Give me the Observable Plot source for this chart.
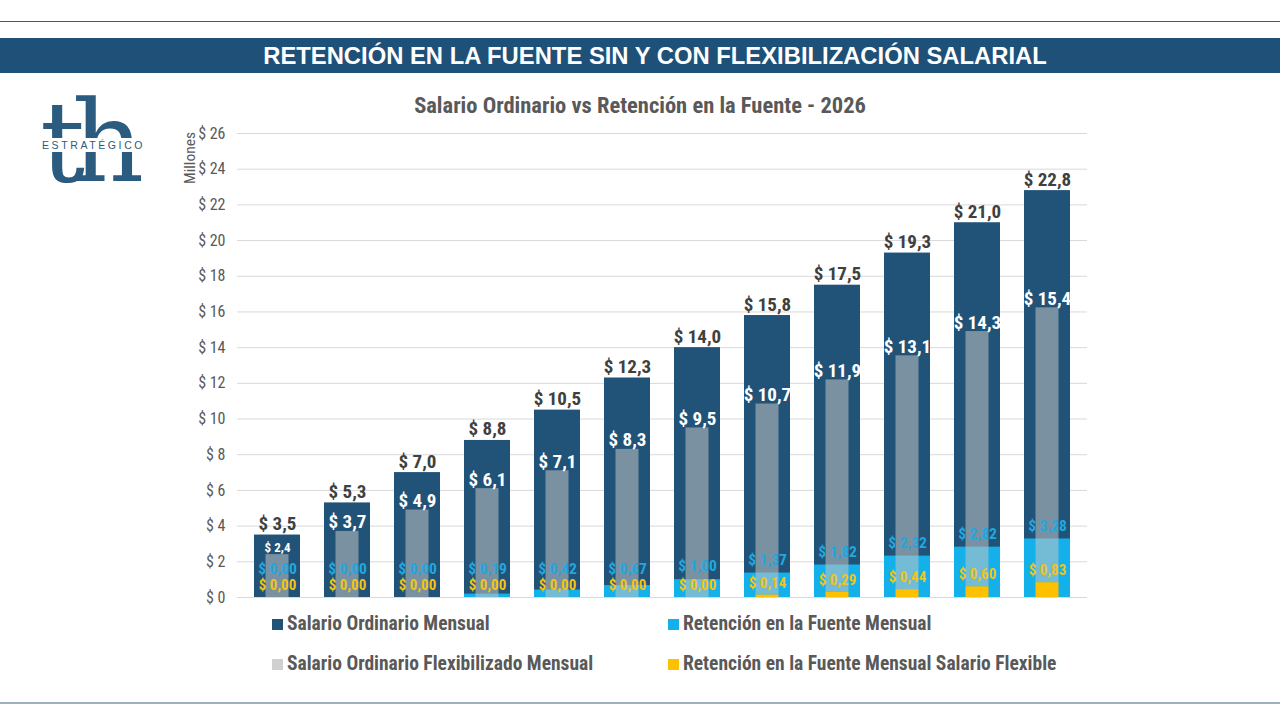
<!DOCTYPE html>
<html><head><meta charset="utf-8">
<script src="https://cdn.jsdelivr.net/npm/d3@7"></script>
<script src="https://cdn.jsdelivr.net/npm/@observablehq/plot@0.6"></script>
<style>
body{margin:0;width:1280px;height:720px;background:#fff;position:relative;overflow:hidden;font-family:"Liberation Sans",Arial,sans-serif}
#topline{position:absolute;left:0;top:21px;width:1280px;height:1px;background:#555}
#banner{position:absolute;left:0;top:38px;width:1280px;height:35px;background:#1f5078;color:#fff;font-weight:bold;font-size:23.8px;line-height:36px;text-align:center;text-indent:30px}
#bottomline{position:absolute;left:0;top:702px;width:1280px;height:2px;background:#9fb0bd}
#ctitle{position:absolute;left:0;top:92px;width:1280px;text-align:center;font-family:"Liberation Sans Narrow","Roboto Condensed","Liberation Sans",sans-serif;font-weight:bold;font-size:22.5px;color:#595959}
#chart{position:absolute;left:0;top:110px}
#logo{position:absolute;left:40px;top:86px;width:110px;height:110px}
#logo .th{position:absolute;left:0;top:0;font-family:"DejaVu Serif","Liberation Serif",serif;font-size:112px;line-height:112px;color:#2b5b7e;letter-spacing:-13px}
#logo .band{position:absolute;left:0;top:52px;width:108px;height:14px;background:#fff;font-family:"Liberation Sans",sans-serif;font-size:10.5px;letter-spacing:2.6px;color:#2b5b7e;line-height:14px;text-indent:2px}
#legend{position:absolute;left:272px;top:612px;font-family:"Liberation Sans Narrow","Roboto Condensed","Liberation Sans",sans-serif;font-weight:bold;font-size:19.5px;color:#595959}
.li{position:absolute;white-space:nowrap;line-height:24px}
.sw{display:inline-block;width:11px;height:11px;margin-right:4px;vertical-align:0px}
</style></head>
<body>
<div id="topline"></div>
<div id="banner">RETENCIÓN EN LA FUENTE SIN Y CON FLEXIBILIZACIÓN SALARIAL</div>
<div id="logo"><div class="th">th</div><div class="band">ESTRATÉGICO</div></div>
<div id="ctitle">Salario Ordinario vs Retención en la Fuente - 2026</div>
<div id="chart"></div>
<div id="legend"></div>
<div id="bottomline"></div>
<script>
const categories = ["1","2","3","4","5","6","7","8","9","10","11","12"];
const salarioOrdinario = [3.5, 5.3, 7.0, 8.8, 10.5, 12.3, 14.0, 15.8, 17.5, 19.3, 21.0, 22.8];
const salarioFlexibilizado = [2.4, 3.7, 4.9, 6.1, 7.1, 8.3, 9.5, 10.7, 11.9, 13.1, 14.3, 15.4];
const retencion = [0.00, 0.00, 0.00, 0.19, 0.42, 0.67, 1.00, 1.37, 1.82, 2.32, 2.82, 3.28];
const retencionFlexible = [0.00, 0.00, 0.00, 0.00, 0.00, 0.00, 0.00, 0.14, 0.29, 0.44, 0.60, 0.83];
const yTicks = [0, 2, 4, 6, 8, 10, 12, 14, 16, 18, 20, 22, 24, 26];
const seriesNames = ["Salario Ordinario Mensual", "Retención en la Fuente Mensual", "Salario Ordinario Flexibilizado Mensual", "Retención en la Fuente Mensual Salario Flexible"];

const C_DARK = "#215379", C_BLUE = "#13b0ea", C_GRAY = "#c4c4c4", C_GOLD = "#ffc000";
const data = categories.map((c, i) => ({
  cat: c, total: salarioOrdinario[i], flex: salarioFlexibilizado[i],
  ret: retencion[i], fret: retencionFlexible[i]
}));
const f1 = v => "$ " + v.toFixed(1).replace(".", ",");
const f2 = v => "$ " + v.toFixed(2).replace(".", ",");
const font = '"Liberation Sans Narrow","Roboto Condensed","Liberation Sans",sans-serif';

const chart = Plot.plot({
  width: 1280, height: 500,
  marginLeft: 237, marginRight: 193, marginTop: 23, marginBottom: 13,
  style: {fontFamily: font, background: "transparent"},
  x: {domain: categories, padding: 0, axis: null},
  y: {domain: [0, 26], ticks: yTicks, tickFormat: d => "$ " + d, tickSize: 0, tickPadding: 12, label: null, axis: null},
  marks: [
    Plot.gridY(yTicks, {stroke: "#d9d9d9", strokeOpacity: 1}),
    Plot.axisY(yTicks, {tickSize: 0, tickPadding: 12, tickFormat: d => "$ " + d, fontSize: 16, fill: "#595959", label: null}),
    Plot.barY(data, {x: "cat", y: "total", fill: C_DARK, insetLeft: 12, insetRight: 12}),
    Plot.barY(data, {x: "cat", y: "ret", fill: C_BLUE, insetLeft: 12, insetRight: 12}),
    Plot.barY(data, {x: "cat", y1: "fret", y2: d => d.fret + d.flex, fill: C_GRAY, fillOpacity: 0.55, insetLeft: 23.5, insetRight: 23.5}),
    Plot.barY(data, {x: "cat", y: "fret", fill: C_GOLD, insetLeft: 23.5, insetRight: 23.5}),
    Plot.text(data, {x: "cat", y: "total", text: d => f1(d.total), lineAnchor: "bottom", dy: -5, fontSize: 19, fontWeight: "bold", fill: "#404040"}),
    Plot.text(data, {x: "cat", y: d => d.fret + d.flex, text: d => f1(d.flex), lineAnchor: "bottom", dy: -3, fontSize: d => d.flex < 3 ? 13 : 19, fontWeight: "bold", fill: "#ffffff"}),
    Plot.text(data, {x: "cat", y: d => Math.max(d.ret + 0.75, 1.6), text: d => f2(d.ret), fontSize: 15.5, fontWeight: "bold", fill: "#22a7df"}),
    Plot.text(data, {x: "cat", y: d => d.fret + 0.68, text: d => f2(d.fret), fontSize: 15, fontWeight: "bold", fill: "#f0c419"})
  ]
});
document.getElementById("chart").appendChild(chart);

// "Millones" axis title
const svg = d3.select(chart);
svg.append("text").attr("transform", "translate(195,48) rotate(-90)").attr("text-anchor", "middle")
  .attr("font-family", font).attr("font-size", 15.5).attr("fill", "#595959").text("Millones");

const legColors = [C_DARK, C_BLUE, "#d0d0d0", C_GOLD];
const legPos = [[0,0],[396,0],[0,40],[396,40]];
const leg = document.getElementById("legend");
seriesNames.forEach((n, i) => {
  const el = document.createElement("div");
  el.className = "li";
  el.style.left = legPos[i][0] + "px"; el.style.top = legPos[i][1] + "px";
  el.innerHTML = `<span class="sw" style="background:${legColors[i]}"></span>${n}`;
  leg.appendChild(el);
});
</script>
</body></html>
